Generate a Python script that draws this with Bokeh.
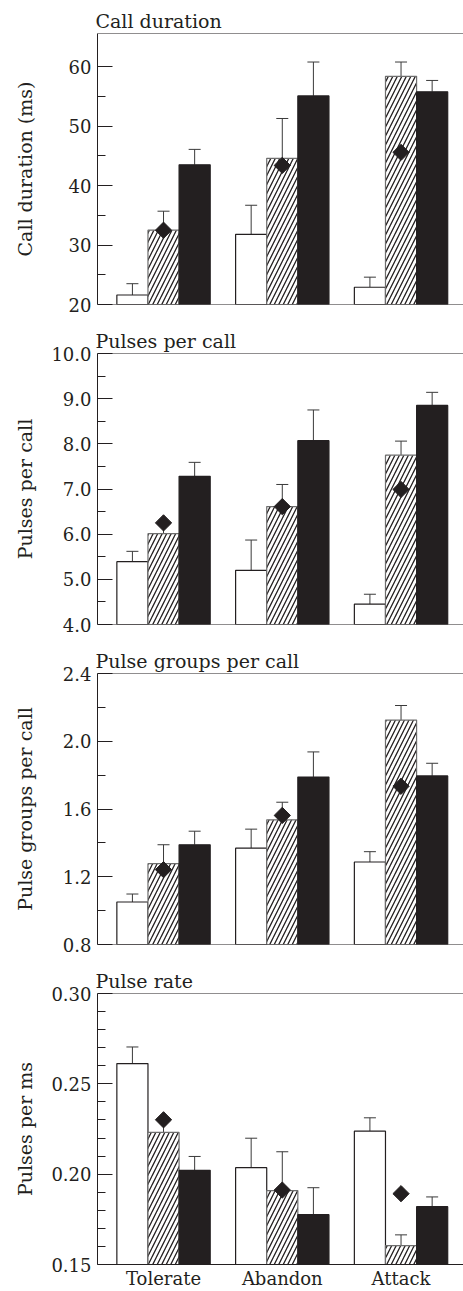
from bokeh.plotting import figure
from bokeh.models import (ColumnDataSource, Range1d, FixedTicker, NumeralTickFormatter,
                          Whisker, TeeHead, Span)
from bokeh.layouts import column
from bokeh.embed import file_html
from bokeh.resources import INLINE

# ---------------- data ----------------
categories = ["Tolerate", "Abandon", "Attack"]

# Panel 1: Call duration (ms)
dur_white = [21.6, 31.8, 22.9]
dur_white_se = [1.9, 4.9, 1.7]
dur_hatch = [32.5, 44.6, 58.4]
dur_hatch_se = [3.2, 6.7, 2.4]
dur_black = [43.5, 55.1, 55.8]
dur_black_se = [2.6, 5.7, 1.9]
dur_diamond = [32.5, 43.4, 45.6]

# Panel 2: Pulses per call
ppc_white = [5.39, 5.20, 4.45]
ppc_white_se = [0.23, 0.67, 0.22]
ppc_hatch = [6.01, 6.61, 7.75]
ppc_hatch_se = [0.24, 0.49, 0.31]
ppc_black = [7.28, 8.07, 8.85]
ppc_black_se = [0.31, 0.68, 0.29]
ppc_diamond = [6.25, 6.61, 6.99]

# Panel 3: Pulse groups per call
pg_white = [1.051, 1.369, 1.287]
pg_white_se = [0.047, 0.112, 0.061]
pg_hatch = [1.277, 1.536, 2.125]
pg_hatch_se = [0.112, 0.104, 0.086]
pg_black = [1.389, 1.789, 1.795]
pg_black_se = [0.080, 0.148, 0.075]
pg_diamond = [1.242, 1.562, 1.734]

# Panel 4: Pulse rate (pulses per ms)
pr_white = [0.2612, 0.2036, 0.2238]
pr_white_se = [0.0092, 0.0163, 0.0074]
pr_hatch = [0.2231, 0.1909, 0.1605]
pr_hatch_se = [0.0070, 0.0215, 0.0059]
pr_black = [0.2021, 0.1776, 0.1820]
pr_black_se = [0.0077, 0.0149, 0.0054]
pr_diamond = [0.2301, 0.1912, 0.1892]

# ---------------- styling ----------------
INK = "#231f20"
FONT = "DejaVu Serif"
BAR_W = 0.262
OFFSETS = [-BAR_W, 0.0, BAR_W]
X_START, X_END = -0.556, 2.526


def make_panel(title, ylabel, y0, y1, majors, minors, fmt, label_standoff,
               white, white_se, hatch, hatch_se, black, black_se, diamond,
               last=False):
    height = 331 if last else 320
    p = figure(width=463, height=height, output_backend="svg", toolbar_location=None,
               x_range=Range1d(X_START, X_END), y_range=Range1d(y0, y1),
               min_border_left=97, min_border_right=0, min_border_top=33,
               min_border_bottom=27 if last else 16, outline_line_color=None,
               background_fill_color="white", border_fill_color="white")
    p.grid.visible = False

    idx = list(range(len(categories)))
    series = [(white, white_se, "white", None, INK),
              (hatch, hatch_se, "white", "/", "#6e6e6e"),
              (black, black_se, INK, None, INK)]
    for k, (vals, ses, fill, hatch_pat, edge) in enumerate(series):
        xs = [i + OFFSETS[k] for i in idx]
        src = ColumnDataSource(dict(x=xs, top=vals,
                                    upper=[v + s for v, s in zip(vals, ses)]))
        kw = dict(x="x", top="top", bottom=y0, width=BAR_W, source=src,
                  fill_color=fill, line_color=edge, line_width=1.2)
        if hatch_pat:
            kw.update(hatch_pattern=hatch_pat, hatch_color=INK, hatch_scale=9,
                      hatch_weight=1.3)
        p.vbar(**kw)
        w = Whisker(base="x", lower="top", upper="upper", source=src,
                    line_color="#3a3a3a", line_width=1,
                    upper_head=TeeHead(size=12, line_color="#3a3a3a", line_width=1),
                    lower_head=None)
        p.add_layout(w)

    dsrc = ColumnDataSource(dict(x=[i + OFFSETS[1] for i in idx], y=diamond))
    p.scatter(x="x", y="y", source=dsrc, marker="square", size=11.5,
              angle=0.785398, fill_color=INK, line_color=INK)

    # y axis
    ax = p.yaxis[0]
    ax.ticker = FixedTicker(ticks=majors, minor_ticks=minors)
    ax.formatter = NumeralTickFormatter(format=fmt)
    ax.major_tick_in = 15
    ax.major_tick_out = 0
    ax.minor_tick_in = 8
    ax.minor_tick_out = 0
    ax.major_tick_line_color = INK
    ax.minor_tick_line_color = INK
    ax.axis_line_color = INK
    ax.major_label_text_font = FONT
    ax.major_label_text_font_size = "18px"
    ax.major_label_text_color = INK
    ax.major_label_standoff = 6
    ax.axis_label = ylabel
    ax.axis_label_text_font = FONT
    ax.axis_label_text_font_size = "19px"
    ax.axis_label_text_font_style = "normal"
    ax.axis_label_text_color = INK
    ax.axis_label_standoff = label_standoff

    # x axis
    xa = p.xaxis[0]
    if last:
        xa.ticker = FixedTicker(ticks=idx, minor_ticks=[])
        xa.major_label_overrides = {i: c for i, c in zip(idx, categories)}
        xa.major_tick_line_color = None
        xa.minor_tick_line_color = None
        xa.major_tick_in = 0
        xa.major_tick_out = 0
        xa.minor_tick_in = 0
        xa.minor_tick_out = 0
        xa.axis_label_standoff = 0
        xa.axis_line_color = INK
        xa.major_label_text_font = FONT
        xa.major_label_text_font_size = "18px"
        xa.major_label_text_color = INK
        xa.major_label_standoff = 3
    else:
        xa.visible = False
        p.add_layout(Span(location=y0, dimension="width", line_color=INK, line_width=1))

    p.add_layout(Span(location=y1, dimension="width", line_color=INK, line_width=1))

    p.title.text = title
    p.title.text_font = FONT
    p.title.text_font_size = "19px"
    p.title.text_font_style = "normal"
    p.title.text_color = INK
    p.title.align = "left"
    p.title.standoff = 4
    p.title.offset = -2
    return p


p1 = make_panel("Call duration", "Call duration (ms)", 20, 65.6,
                [20, 30, 40, 50, 60], [25, 35, 45, 55], "0", 30,
                dur_white, dur_white_se, dur_hatch, dur_hatch_se,
                dur_black, dur_black_se, dur_diamond)
p2 = make_panel("Pulses per call", "Pulses per call", 4.0, 10.0,
                [4, 5, 6, 7, 8, 9, 10], [4.5, 5.5, 6.5, 7.5, 8.5, 9.5], "0.0", 12,
                ppc_white, ppc_white_se, ppc_hatch, ppc_hatch_se,
                ppc_black, ppc_black_se, ppc_diamond)
p3 = make_panel("Pulse groups per call", "Pulse groups per call", 0.8, 2.4,
                [0.8, 1.2, 1.6, 2.0, 2.4], [1.0, 1.4, 1.8, 2.2], "0.0", 24,
                pg_white, pg_white_se, pg_hatch, pg_hatch_se,
                pg_black, pg_black_se, pg_diamond)
p4 = make_panel("Pulse rate", "Pulses per ms", 0.15, 0.30,
                [0.15, 0.20, 0.25, 0.30],
                [0.16, 0.17, 0.18, 0.19, 0.21, 0.22, 0.23, 0.24, 0.26, 0.27, 0.28, 0.29],
                "0.00", 12,
                pr_white, pr_white_se, pr_hatch, pr_hatch_se,
                pr_black, pr_black_se, pr_diamond, last=True)

layout = column(p1, p2, p3, p4, spacing=0)
open("out.html", "w").write(file_html(layout, INLINE))
